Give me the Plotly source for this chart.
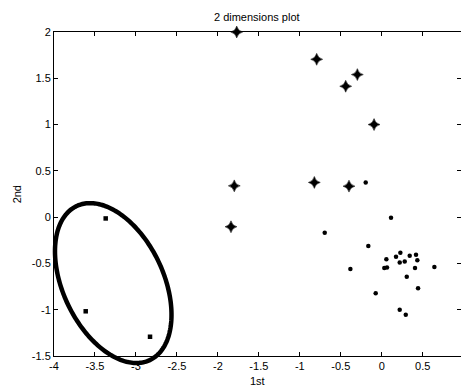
import numpy as np
import plotly.graph_objects as go

# ---- data ----
star_x = [-0.794, -0.298, -0.44, -0.094, -1.80, -0.823, -0.40, -1.84, -1.77]
star_y = [1.705, 1.54, 1.414, 1.0, 0.338, 0.375, 0.335, -0.104, 2.0]

dot_x = [-0.196, 0.113, -0.696, -0.164, -0.383, 0.227, 0.174, 0.341, 0.418, 0.056,
         0.434, 0.219, 0.28, 0.031, 0.064, 0.406, 0.642, 0.305, 0.443, -0.074,
         0.219, 0.293]
dot_y = [0.375, -0.007, -0.169, -0.313, -0.561, -0.385, -0.428, -0.417, -0.407, -0.456,
         -0.467, -0.489, -0.478, -0.55, -0.543, -0.55, -0.539, -0.644, -0.769, -0.823,
         -1.0, -1.054]

sq_x = [-3.369, -3.613, -2.828]
sq_y = [-0.014, -1.017, -1.292]

# ellipse around the square group (center + covariance)
ell_center = [-3.277, -0.712]
ell_cov = [[0.5055, -0.2437], [-0.2437, 0.7454]]

x_range = [-4, 0.967]
y_range = [-1.5, 2]
x_ticks = [-4, -3.5, -3, -2.5, -2, -1.5, -1, -0.5, 0, 0.5]
x_ticktext = ["-4", "-3.5", "-3", "-2.5", "-2", "-1.5", "-1", "-0.5", "0", "0.5"]
y_ticks = [-1.5, -1, -0.5, 0, 0.5, 1, 1.5, 2]
y_ticktext = ["-1.5", "-1", "-0.5", "0", "0.5", "1", "1.5", "2"]

# ellipse outline (in axis-domain fractions so it is not clipped at the axes)
L = np.linalg.cholesky(np.array(ell_cov))
t = np.linspace(0, 2 * np.pi, 240)
pts = L @ np.vstack([np.cos(t), np.sin(t)])
ex = ell_center[0] + pts[0]
ey = ell_center[1] + pts[1]
fx = (ex - x_range[0]) / (x_range[1] - x_range[0])
fy = (ey - y_range[0]) / (y_range[1] - y_range[0])
ell_path = "M " + " L ".join(f"{a:.5f},{b:.5f}" for a, b in zip(fx, fy)) + " Z"

FONT = "Liberation Sans, Arial, sans-serif"
TXT = dict(family=FONT, size=11, color="black")

fig = go.Figure()
fig.add_trace(go.Scatter(x=star_x, y=star_y, mode="markers", cliponaxis=False,
                         marker=dict(symbol="star-diamond", size=8.5, color="black",
                                     line=dict(width=0.5, color="black"))))
fig.add_trace(go.Scatter(x=dot_x, y=dot_y, mode="markers",
                         marker=dict(symbol="circle", size=4.5, color="black", line=dict(width=0))))
fig.add_trace(go.Scatter(x=sq_x, y=sq_y, mode="markers",
                         marker=dict(symbol="square", size=4.5, color="black", line=dict(width=0))))

fig.add_shape(type="path", path=ell_path, xref="x domain", yref="y domain",
              line=dict(color="black", width=4.5), fillcolor="rgba(0,0,0,0)", layer="above")

axis_common = dict(showgrid=False, zeroline=False, showline=True, linecolor="black",
                   linewidth=1, mirror="ticks", ticks="inside", ticklen=4,
                   tickcolor="black", tickwidth=1, tickfont=TXT)

fig.update_layout(
    width=461, height=387,
    margin=dict(l=54, r=0, t=32, b=31),
    paper_bgcolor="white", plot_bgcolor="white",
    showlegend=False,
    title=dict(text="2 dimensions plot", x=0.557, xanchor="center", y=0.955, yanchor="middle",
               font=TXT),
    xaxis=dict(range=x_range, tickvals=x_ticks, ticktext=x_ticktext, **axis_common),
    yaxis=dict(range=y_range, tickvals=y_ticks, ticktext=y_ticktext, **axis_common),
    annotations=[
        dict(text="1st", xref="paper", yref="paper", x=0.5, y=-0.077, xanchor="center",
             yanchor="middle", showarrow=False, font=TXT),
        dict(text="2nd", xref="paper", yref="paper", x=-0.09, y=0.5, xanchor="center",
             yanchor="middle", textangle=-90, showarrow=False, font=TXT),
    ],
)

fig.write_html("out.html", config={"displayModeBar": False},
               post_script="document.body.style.margin='0';document.body.style.overflow='hidden';")
